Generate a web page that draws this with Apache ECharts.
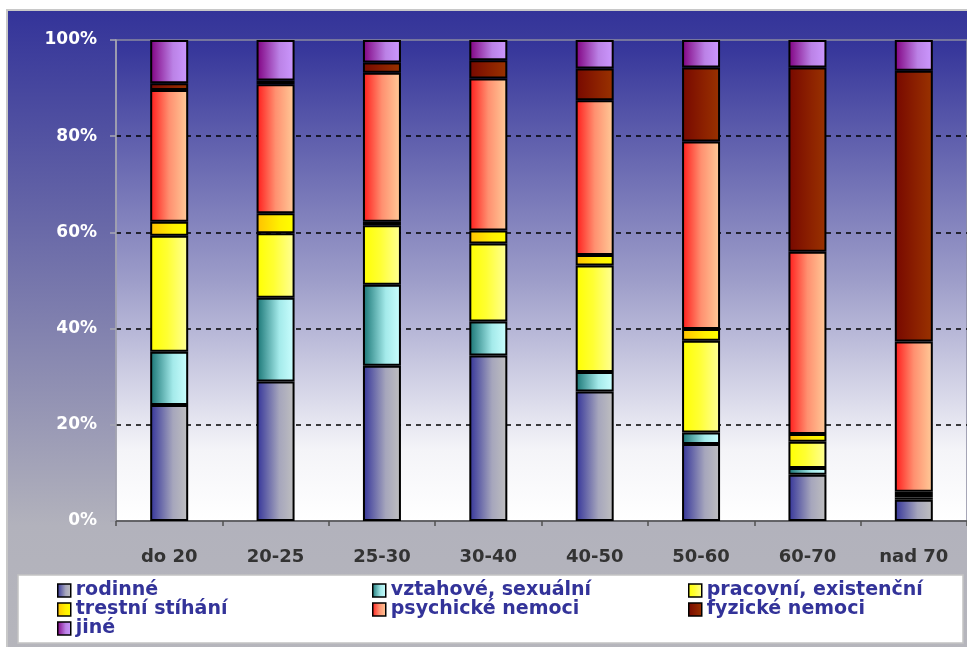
<!DOCTYPE html>
<html>
<head>
<meta charset="utf-8">
<script src="https://cdn.jsdelivr.net/npm/echarts@6/dist/echarts.min.js"></script>
<style>
  html, body { margin: 0; padding: 0; background: #ffffff; overflow: hidden; }
  #chart { width: 967px; height: 647px; }
</style>
</head>
<body>
<div id="chart"></div>
<script>
// Age groups on the x axis
const categories = ['do 20', '20-25', '25-30', '30-40', '40-50', '50-60', '60-70', 'nad 70'];

// Share of each motive per age group (percent of the group)
const rodinne   = [24.1, 29.0, 32.3, 34.4, 26.9, 16.0,  9.6,  4.4];
const vztahove  = [11.1, 17.4, 16.8,  7.1,  4.1,  2.4,  1.4,  0.5];
const pracovni  = [24.1, 13.4, 12.4, 16.2, 22.1, 19.1,  5.5,  0.7];
const trestni   = [ 2.9,  4.2,  0.7,  2.7,  2.2,  2.4,  1.6,  0.5];
const psychicke = [27.4, 26.8, 31.0, 31.6, 32.2, 39.0, 37.9, 31.2];
const fyzicke   = [ 1.4,  0.8,  2.1,  3.8,  6.6, 15.4, 38.3, 56.3];
const jine      = [ 9.0,  8.4,  4.7,  4.2,  5.9,  5.7,  5.7,  6.4];

// Series names
const names = ['rodinné', 'vztahové, sexuální', 'pracovní, existenční', 'trestní stíhání',
               'psychické nemoci', 'fyzické nemoci', 'jiné'];
const values = [rodinne, vztahove, pracovni, trestni, psychicke, fyzicke, jine];

// Horizontal gradient fill per series (dark on the left, light on the right)
const fills = [
  [[0, '#333399'], [0.6, '#a6a6bc'], [1, '#c0c0c0']],
  [[0, '#177373'], [0.6, '#a4eaea'], [1, '#ccffff']],
  [[0, '#ffff00'], [0.45, '#ffff33'], [1, '#ffff99']],
  [[0, '#ffc000'], [0.6, '#fff000'], [1, '#ffff00']],
  [[0, '#ff1a1a'], [0.5, '#ff9070'], [1, '#ffcc99']],
  [[0, '#770800'], [0.6, '#8d2200'], [1, '#993300']],
  [[0, '#800080'], [0.6, '#bb82e6'], [1, '#cc99ff']]
];

function hGrad(stops) {
  return {
    type: 'linear', x: 0, y: 0, x2: 1, y2: 0,
    colorStops: stops.map(s => ({ offset: s[0], color: s[1] }))
  };
}

const FONT = 'DejaVu Sans';

const series = names.map((n, i) => ({
  name: n,
  type: 'bar',
  stack: 'total',
  barWidth: 38,
  data: values[i],
  itemStyle: { color: hGrad(fills[i]), borderColor: '#000000', borderWidth: 2 },
  emphasis: { disabled: true }
}));

function legendColumn(left, data) {
  return {
    orient: 'vertical',
    left: left,
    top: 581,
    itemWidth: 13,
    itemHeight: 13,
    itemGap: 0,
    itemStyle: { borderColor: '#000000', borderWidth: 1.5 },
    selectedMode: false,
    icon: 'rect',
    textStyle: { color: '#333399', fontFamily: FONT, fontWeight: 'bold', fontSize: 19, lineHeight: 18.5, padding: [0, 0, 0, 0] },
    padding: 0,
    data: data
  };
}

const chart = echarts.init(document.getElementById('chart'), null, { renderer: 'canvas' });

chart.setOption({
  animation: false,
  backgroundColor: 'transparent',
  graphic: [
    {
      type: 'rect', z: -100,
      shape: { x: 7, y: 10, width: 980, height: 660 },
      style: {
        fill: {
          type: 'linear', x: 0, y: 0, x2: 0, y2: 1,
          colorStops: [
            { offset: 0, color: '#333399' },
            { offset: 0.78, color: '#b2b2bc' },
            { offset: 1, color: '#b6b6bc' }
          ]
        },
        stroke: '#c8c8c8', lineWidth: 2
      }
    },
    {
      type: 'rect', z: -50,
      shape: { x: 18, y: 575, width: 945, height: 68 },
      style: { fill: '#ffffff', stroke: '#c4c4c4', lineWidth: 1.5 }
    }
  ],
  grid: {
    left: 116, top: 40, width: 853, height: 481,
    show: true,
    borderWidth: 1.5,
    borderColor: '#8a8aa0',
    backgroundColor: {
      type: 'linear', x: 0, y: 0, x2: 0, y2: 1,
      colorStops: [
        { offset: 0, color: '#333399' },
        { offset: 0.5, color: '#9d9dc9' },
        { offset: 0.85, color: '#f4f4f8' },
        { offset: 1, color: '#ffffff' }
      ]
    }
  },
  legend: [
    legendColumn(57, ['rodinné', 'trestní stíhání', 'jiné']),
    legendColumn(372, ['vztahové, sexuální', 'psychické nemoci']),
    legendColumn(688, ['pracovní, existenční', 'fyzické nemoci'])
  ],
  xAxis: {
    type: 'category',
    data: categories,
    axisLine: { show: true, lineStyle: { color: '#505050', width: 1.5 } },
    axisTick: { show: true, length: 5, lineStyle: { color: '#505050', width: 1.5 } },
    axisLabel: { color: '#333333', fontFamily: FONT, fontWeight: 'bold', fontSize: 18, margin: 27 }
  },
  yAxis: {
    type: 'value',
    min: 0, max: 100, interval: 20,
    axisLine: { show: true, lineStyle: { color: '#a8a8b4', width: 1.5 } },
    axisTick: { show: true, length: 6, lineStyle: { color: '#a8a8b4', width: 1.5 } },
    axisLabel: { color: '#ffffff', fontFamily: FONT, fontWeight: 'bold', fontSize: 17, margin: 19, formatter: '{value}%' },
    splitLine: {
      show: true,
      lineStyle: {
        color: ['transparent', '#000000', '#000000', '#000000', '#000000', 'transparent'],
        type: [5, 5], width: 1.5
      }
    }
  },
  series: series
});
</script>
</body>
</html>
